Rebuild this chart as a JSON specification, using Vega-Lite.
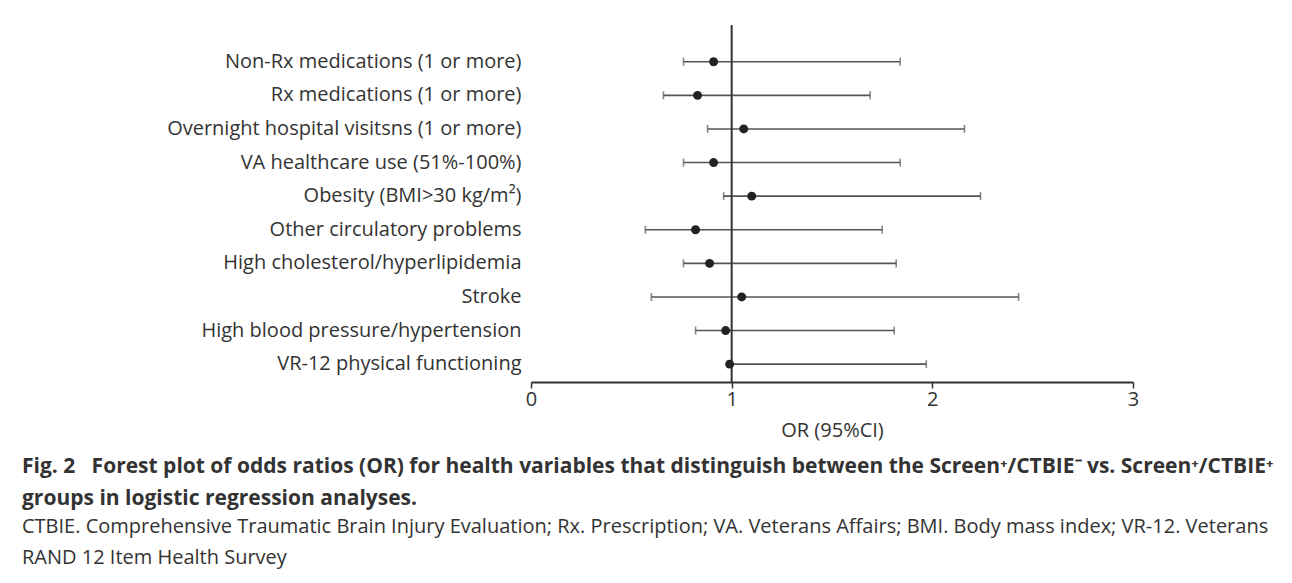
{
  "$schema": "https://vega.github.io/schema/vega-lite/v6.json",
  "autosize": "none",
  "width": 602,
  "height": 357,
  "padding": {"left": 531, "top": 25, "right": 159, "bottom": 201},
  "background": "white",
  "config": {
    "font": "Open Sans",
    "view": {"stroke": null},
    "axis": {"labelColor": "#333", "titleColor": "#333", "labelFont": "Open Sans", "titleFont": "Open Sans"},
    "title": {"font": "Open Sans", "subtitleFont": "Open Sans"}
  },
  "title": {
    "text": ["Fig. 2\u00a0\u00a0\u00a0Forest plot of odds ratios (OR) for health variables that distinguish between the Screen⁺/CTBIE⁻ vs. Screen⁺/CTBIE⁺", "groups in logistic regression analyses."],
    "subtitle": ["CTBIE. Comprehensive Traumatic Brain Injury Evaluation; Rx. Prescription; VA. Veterans Affairs; BMI. Body mass index; VR-12. Veterans", "RAND 12 Item Health Survey"],
    "orient": "bottom",
    "anchor": "start",
    "frame": "group",
    "dx": -509,
    "offset": 16,
    "fontSize": 21,
    "fontWeight": "bold",
    "color": "#333",
    "lineHeight": 32,
    "subtitleFontSize": 20,
    "subtitleColor": "#333",
    "subtitleLineHeight": 31,
    "subtitlePadding": 8
  },
  "data": {
    "values": [
      {"variable": "Non-Rx medications (1 or more)", "or": 0.91, "lower": 0.76, "upper": 1.84},
      {"variable": "Rx medications (1 or more)", "or": 0.83, "lower": 0.66, "upper": 1.69},
      {"variable": "Overnight hospital visitsns (1 or more)", "or": 1.06, "lower": 0.88, "upper": 2.16},
      {"variable": "VA healthcare use (51%-100%)", "or": 0.91, "lower": 0.76, "upper": 1.84},
      {"variable": "Obesity (BMI>30 kg/m²)", "or": 1.10, "lower": 0.96, "upper": 2.24},
      {"variable": "Other circulatory problems", "or": 0.82, "lower": 0.57, "upper": 1.75},
      {"variable": "High cholesterol/hyperlipidemia", "or": 0.89, "lower": 0.76, "upper": 1.82},
      {"variable": "Stroke", "or": 1.05, "lower": 0.60, "upper": 2.43},
      {"variable": "High blood pressure/hypertension", "or": 0.97, "lower": 0.82, "upper": 1.81},
      {"variable": "VR-12 physical functioning", "or": 0.99, "lower": 0.98, "upper": 1.97}
    ]
  },
  "encoding": {
    "y": {
      "field": "variable",
      "type": "nominal",
      "sort": null,
      "scale": {"type": "band", "paddingInner": 0, "paddingOuter": 0.3125, "align": 0.95},
      "axis": {"title": null, "domain": false, "ticks": false, "labelPadding": 10, "labelFontSize": 20, "labelLimit": 0}
    }
  },
  "layer": [
    {
      "mark": {"type": "rule", "color": "#555", "strokeWidth": 1.6},
      "encoding": {
        "x": {
          "field": "lower",
          "type": "quantitative",
          "scale": {"domain": [0, 3], "nice": false},
          "axis": {
            "title": "OR (95%CI)",
            "titleFontSize": 20,
            "titleFontWeight": "normal",
            "titlePadding": 11,
            "values": [0, 1, 2, 3],
            "format": "d",
            "grid": false,
            "domainColor": "#333",
            "domainWidth": 2,
            "tickColor": "#333",
            "tickWidth": 1.5,
            "tickSize": 6,
            "labelFontSize": 20,
            "labelPadding": 1,
            "labelFlush": false
          }
        },
        "x2": {"field": "upper"}
      }
    },
    {
      "mark": {"type": "tick", "color": "#555", "size": 8, "thickness": 1.6},
      "encoding": {"x": {"field": "lower", "type": "quantitative"}}
    },
    {
      "mark": {"type": "tick", "color": "#555", "size": 8, "thickness": 1.6},
      "encoding": {"x": {"field": "upper", "type": "quantitative"}}
    },
    {
      "data": {"values": [{"ref": 1}]},
      "mark": {"type": "rule", "color": "#333", "strokeWidth": 2},
      "encoding": {"x": {"field": "ref", "type": "quantitative"}, "y": null}
    },
    {
      "mark": {"type": "point", "filled": true, "color": "#222", "size": 80, "opacity": 1},
      "encoding": {"x": {"field": "or", "type": "quantitative"}}
    }
  ]
}
